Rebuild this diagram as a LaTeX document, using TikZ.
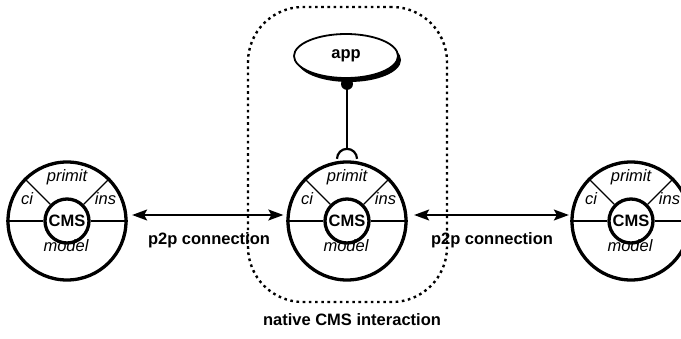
\documentclass[tikz,border=0pt]{standalone}
\usepackage{fontspec}
\setmainfont{Liberation Sans}
\usetikzlibrary{shapes.geometric,arrows.meta,shadows}

% One CMS component: outer ring, core, dividers, spokes and the four part labels
\newcommand\cmsunit[2]{%
  \node[ring] (#1) at (#2,117) {};
  \node[core] (#1c) at (#2,117) {CMS};
  \draw[divider] (#1.west) -- (#1c.west);
  \draw[divider] (#1c.east) -- (#1.east);
  \draw[spoke] (#1c.135) -- (#1.135);
  \draw[spoke] (#1c.45) -- (#1.45);
  \node[part] (#1-primit) at ([shift={(0,39)}]#1.center) {primit};
  \node[part] (#1-ci) at ([shift={(-40,16)}]#1.center) {ci};
  \node[part] (#1-ins) at ([shift={(38.5,16)}]#1.center) {ins};
  \node[part] (#1-model) at ([shift={(-1,-31)}]#1.center) {model};
}

\begin{document}
\begin{tikzpicture}[x=1pt,y=1pt,
  font=\fontsize{16.5}{19}\selectfont,
  ring/.style={circle, draw, line width=3.3pt, minimum size=118pt, inner sep=0pt},
  core/.style={circle, draw, fill=white, line width=3.3pt, minimum size=44pt,
    inner sep=0pt, font=\fontsize{16.5}{19}\selectfont\bfseries},
  divider/.style={line width=2.6pt},
  spoke/.style={line width=1.2pt},
  part/.style={font=\fontsize{16.5}{19}\selectfont\itshape, anchor=base, inner sep=0pt},
  caption/.style={font=\fontsize{16.5}{19}\selectfont\bfseries, anchor=base, inner sep=0pt},
  p2p/.style={{Stealth[length=15pt,width=11pt,inset=3pt]}-{Stealth[length=15pt,width=11pt,inset=3pt]},
    line width=1.7pt},
  zone/.style={draw, line width=2.4pt, dash pattern=on 2.6pt off 3.6pt,
    rounded corners=55pt, minimum width=199pt, minimum height=295pt, inner sep=0pt},
  appnode/.style={ellipse, draw, fill=white, line width=1.8pt, minimum width=104pt,
    minimum height=44pt, inner sep=0pt, font=\fontsize{16.5}{19}\selectfont\bfseries,
    drop shadow={shadow xshift=3pt, shadow yshift=-4pt, fill=black, opacity=1}},
  wire/.style={line width=2.2pt},
]
\useasboundingbox (0,0) rectangle (681,338);
\clip (0,0) rectangle (681,338);

% native interaction zone
\node[zone] (zone) at (347.5,183.5) {};
\node[caption] (zonelabel) at (352,13) {native CMS interaction};

% the three CMS components
\cmsunit{L}{67}
\cmsunit{M}{347}
\cmsunit{R}{631}

% peer-to-peer connections
\draw[p2p] ([shift={(4.5,6)}]L.east) -- ([shift={(-3,6)}]M.west);
\draw[p2p] ([shift={(6.5,6)}]M.east) -- ([shift={(-1.5,6)}]R.west);
\node[caption] (p2pleft) at (209,94) {p2p connection};
\node[caption] (p2pright) at (492,94) {p2p connection};

% application bound to the middle CMS through a ball-and-socket link
\node[appnode] (app) at (346,282) {app};
\coordinate (socket) at ([yshift=1.5pt]M.north);
\draw[wire] ([yshift=-5pt]app.south -| M.center) -- ([yshift=10pt]socket);
\fill ([yshift=-5pt]app.south -| M.center) circle (6pt);
\draw[wire] ([xshift=10pt]socket) arc[start angle=0, end angle=180, radius=10pt];
\end{tikzpicture}
\end{document}
